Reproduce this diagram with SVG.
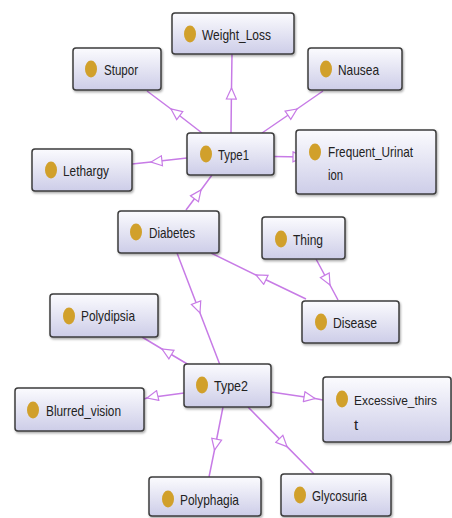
<svg xmlns="http://www.w3.org/2000/svg" width="452" height="518" viewBox="0 0 452 518">
<defs>
<linearGradient id="g" x1="0" y1="0" x2="0" y2="1">
<stop offset="0" stop-color="#fbfbfe"/>
<stop offset="1" stop-color="#cdcde8"/>
</linearGradient>
<marker id="tri" markerWidth="14" markerHeight="12" refX="12" refY="6" orient="auto" markerUnits="userSpaceOnUse">
<path d="M1,1 L12,6 L1,11 Z" fill="#ffffff" stroke="#c77be6" stroke-width="1.2"/>
</marker>
<filter id="sh" x="-10%" y="-10%" width="130%" height="140%">
<feDropShadow dx="1" dy="1.5" stdDeviation="0.8" flood-color="#000" flood-opacity="0.35"/>
</filter>
</defs>
<style>
.box{fill:url(#g);stroke:#3c3c3c;stroke-width:1.5;filter:url(#sh)}
.dot{fill:#d1a02b}
.t{font-family:"Liberation Sans",Arial,sans-serif;font-size:15px;fill:#222}
.e{fill:none;stroke:#c77be6;stroke-width:1.5;marker-mid:url(#tri)}
</style>
<rect width="452" height="518" fill="#ffffff"/>
<g id="connectors">
<path class="e" d="M231,133 L231.5,88 L232,54"/>
<path class="e" d="M202,133 L171,109 L147,91"/>
<path class="e" d="M262,133 L297,109 L323,91"/>
<path class="e" d="M187,158 L151,162 L132,164"/>
<path class="e" d="M274,156.5 L304,157 L310,157"/>
<path class="e" d="M186,210 L201,190 L212,175"/>
<path class="e" d="M306,299 L256,275 L211,253"/>
<path class="e" d="M316,259 L330,285 L338,300"/>
<path class="e" d="M177,253 L200,313 L220,365"/>
<path class="e" d="M189,365 L162,349 L142,337"/>
<path class="e" d="M184,393 L147,398 L144,399"/>
<path class="e" d="M271,392 L315,398.5 L323,400"/>
<path class="e" d="M223,407 L214.5,450 L209,477"/>
<path class="e" d="M248,407 L287,446.6 L314,474"/>
</g>
<g id="Weight_Loss"><rect class="box" x="172" y="13" width="122" height="41" rx="3"/><ellipse class="dot" cx="190" cy="34" rx="6" ry="8.5"/><text class="t" x="202" y="40" textLength="69" lengthAdjust="spacingAndGlyphs">Weight_Loss</text></g>
<g id="Stupor"><rect class="box" x="73" y="48" width="88" height="42" rx="3"/><ellipse class="dot" cx="91" cy="69" rx="6" ry="8.5"/><text class="t" x="104" y="75" textLength="34" lengthAdjust="spacingAndGlyphs">Stupor</text></g>
<g id="Nausea"><rect class="box" x="308" y="48" width="94" height="42" rx="3"/><ellipse class="dot" cx="326" cy="69" rx="6" ry="8.5"/><text class="t" x="338" y="75" textLength="41" lengthAdjust="spacingAndGlyphs">Nausea</text></g>
<g id="Type1"><rect class="box" x="187" y="133" width="87" height="42" rx="3"/><ellipse class="dot" cx="206" cy="154" rx="6" ry="8.5"/><text class="t" x="218" y="160" textLength="31" lengthAdjust="spacingAndGlyphs">Type1</text></g>
<g id="Lethargy"><rect class="box" x="32" y="149" width="100" height="42" rx="3"/><ellipse class="dot" cx="51" cy="170" rx="6" ry="8.5"/><text class="t" x="63" y="176" textLength="46" lengthAdjust="spacingAndGlyphs">Lethargy</text></g>
<g id="Frequent_Urination"><rect class="box" x="296" y="130" width="140" height="64" rx="3"/><ellipse class="dot" cx="315" cy="152" rx="6" ry="8.5"/><text class="t" x="328" y="157" textLength="85" lengthAdjust="spacingAndGlyphs">Frequent_Urinat</text><text class="t" x="328" y="180" textLength="15" lengthAdjust="spacingAndGlyphs">ion</text></g>
<g id="Diabetes"><rect class="box" x="118" y="211" width="101" height="42" rx="3"/><ellipse class="dot" cx="136" cy="232" rx="6" ry="8.5"/><text class="t" x="149" y="238" textLength="46" lengthAdjust="spacingAndGlyphs">Diabetes</text></g>
<g id="Thing"><rect class="box" x="262" y="217" width="83" height="42" rx="3"/><ellipse class="dot" cx="281" cy="239" rx="6" ry="8.5"/><text class="t" x="293" y="245" textLength="30" lengthAdjust="spacingAndGlyphs">Thing</text></g>
<g id="Polydipsia"><rect class="box" x="50" y="294" width="108" height="43" rx="3"/><ellipse class="dot" cx="69" cy="316" rx="6" ry="8.5"/><text class="t" x="81" y="321" textLength="54" lengthAdjust="spacingAndGlyphs">Polydipsia</text></g>
<g id="Disease"><rect class="box" x="302" y="301" width="97" height="42" rx="3"/><ellipse class="dot" cx="321" cy="322" rx="6" ry="8.5"/><text class="t" x="333" y="328" textLength="44" lengthAdjust="spacingAndGlyphs">Disease</text></g>
<g id="Type2"><rect class="box" x="184" y="364" width="87" height="43" rx="3"/><ellipse class="dot" cx="202" cy="385" rx="6" ry="8.5"/><text class="t" x="214" y="391" textLength="34" lengthAdjust="spacingAndGlyphs">Type2</text></g>
<g id="Blurred_vision"><rect class="box" x="15" y="388" width="129" height="43" rx="3"/><ellipse class="dot" cx="33" cy="410" rx="6" ry="8.5"/><text class="t" x="46" y="416" textLength="75" lengthAdjust="spacingAndGlyphs">Blurred_vision</text></g>
<g id="Excessive_thirst"><rect class="box" x="323" y="377" width="128" height="65" rx="3"/><ellipse class="dot" cx="342" cy="399" rx="6" ry="8.5"/><text class="t" x="354" y="405" style="font-size:13.5px" textLength="83" lengthAdjust="spacingAndGlyphs">Excessive_thirs</text><text class="t" x="354" y="430">t</text></g>
<g id="Polyphagia"><rect class="box" x="149" y="477" width="112" height="39" rx="3"/><ellipse class="dot" cx="168" cy="499" rx="6" ry="8.5"/><text class="t" x="180" y="505" textLength="59" lengthAdjust="spacingAndGlyphs">Polyphagia</text></g>
<g id="Glycosuria"><rect class="box" x="281" y="474" width="110" height="42" rx="3"/><ellipse class="dot" cx="300" cy="495" rx="6" ry="8.5"/><text class="t" x="312" y="501" textLength="55" lengthAdjust="spacingAndGlyphs">Glycosuria</text></g>
</svg>
